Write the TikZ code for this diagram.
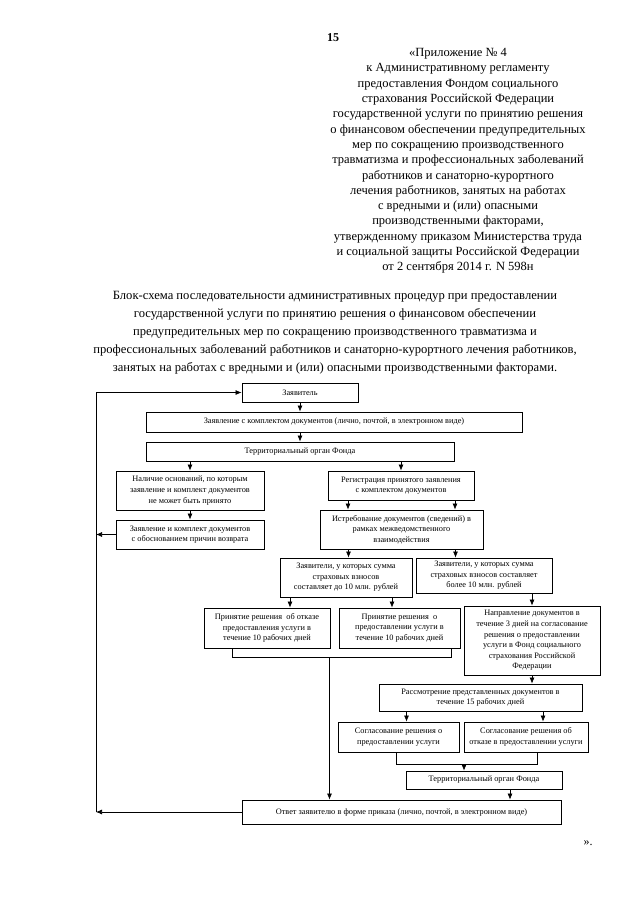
\documentclass[tikz,border=0pt]{standalone}
\usepackage{fontspec}
\setmainfont{Liberation Serif}
\usetikzlibrary{arrows.meta,calc}

\newcommand{\bxfont}{\fontsize{8.3}{10.6}\selectfont}

\begin{document}
\begin{tikzpicture}[x=1pt,y=-1pt,>={Latex[length=6pt,width=5pt]},
    box node/.style={rectangle,draw,line width=0.8pt,align=center,inner sep=1pt,font=\bxfont},
    every path/.style={line width=0.7pt}]
  \useasboundingbox (0,0) rectangle (640,905);

  % Page text
  \node (pnum) at (333,38) {\fontsize{12}{14}\selectfont\bfseries 15};
  \node[align=center,font=\fontsize{12.5}{15.3}\selectfont] (annex) at (458,161) {%
    «Приложение № 4\\
    к Административному регламенту\\
    предоставления Фондом социального\\
    страхования Российской Федерации\\
    государственной услуги по принятию решения\\
    о финансовом обеспечении предупредительных\\
    мер по сокращению производственного\\
    травматизма и профессиональных заболеваний\\
    работников и санаторно-курортного\\
    лечения работников, занятых на работах\\
    с вредными и (или) опасными\\
    производственными факторами,\\
    утвержденному приказом Министерства труда\\
    и социальной защиты Российской Федерации\\
    от 2 сентября 2014 г. N 598н};
  \node[align=center,font=\fontsize{12.6}{18}\selectfont] (title) at (335,333) {%
    Блок-схема последовательности административных процедур при предоставлении\\
    государственной услуги по принятию решения о финансовом обеспечении\\
    предупредительных мер по сокращению производственного травматизма и\\
    профессиональных заболеваний работников и санаторно-курортного лечения работников,\\
    занятых на работах с вредными и (или) опасными производственными факторами.};
  \node (close) at (588,843) {\fontsize{12}{14}\selectfont ».};

  % Nodes
  \node[box node,minimum width=116pt,minimum height=19pt] (zayav) at (300,392.5) {Заявитель};
  \node[box node,minimum width=376pt,minimum height=20pt] (zayavl) at (334,422)
    {Заявление с комплектом документов (лично, почтой, в электронном виде)};
  \node[box node,minimum width=308pt,minimum height=19pt] (terr) at (300,451.5) {Территориальный орган Фонда};
  \node[box node,minimum width=148pt,minimum height=39pt] (nalich) at (190,490.5)
    {Наличие оснований, по которым\\ заявление и комплект документов\\ не может быть принято};
  \node[box node,minimum width=148pt,minimum height=29pt] (vozvr) at (190,534.5)
    {Заявление и комплект документов\\ с обоснованием причин возврата};
  \node[box node,minimum width=146pt,minimum height=29pt] (reg) at (401,485.5)
    {Регистрация принятого заявления\\ с комплектом документов};
  \node[box node,minimum width=163pt,minimum height=39pt] (istreb) at (401.5,529.5)
    {Истребование документов (сведений) в\\ рамках межведомственного\\ взаимодействия};
  \node[box node,minimum width=132pt,minimum height=39pt] (do10) at (346,577.5)
    {Заявители, у которых сумма\\ страховых взносов\\ составляет до 10 млн. рублей};
  \node[box node,minimum width=136pt,minimum height=35pt] (bolee10) at (484,575.5)
    {Заявители, у которых сумма\\ страховых взносов составляет\\ более 10 млн. рублей};
  \node[box node,minimum width=126pt,minimum height=40pt] (otkaz) at (267,628)
    {Принятие решения \ об отказе\\ предоставления услуги в\\ течение 10 рабочих дней};
  \node[box node,minimum width=121pt,minimum height=40pt] (predost) at (399.5,628)
    {Принятие решения \ о\\ предоставлении услуги в\\ течение 10 рабочих дней};
  \node[box node,minimum width=136pt,minimum height=69pt] (napr) at (532,640.5)
    {Направление документов в\\ течение 3 дней на согласование\\ решения о предоставлении\\
     услуги в Фонд социального\\ страхования Российской\\ Федерации};
  \node[box node,minimum width=203pt,minimum height=27pt] (rassm) at (480.5,697.5)
    {Рассмотрение представленных документов в\\ течение 15 рабочих дней};
  \node[box node,minimum width=121pt,minimum height=30pt] (sogl1) at (398.5,737)
    {Согласование решения о\\ предоставлении услуги};
  \node[box node,minimum width=124pt,minimum height=30pt] (sogl2) at (526,737)
    {Согласование решения об\\ отказе в предоставлении услуги};
  \node[box node,minimum width=156pt,minimum height=18pt] (terr2) at (484,780) {Территориальный орган Фонда};
  \node[box node,minimum width=319pt,minimum height=24pt] (otvet) at (401.5,812)
    {Ответ заявителю в форме приказа (лично, почтой, в электронном виде)};
  \coordinate (lft) at (96,0);

  % Edges
  \draw[->] (zayav.south) -- (zayav.south |- zayavl.north);
  \draw[->] (terr.north |- zayavl.south) -- (terr.north);
  \draw[->] (terr.south -| nalich.north) -- (nalich.north);
  \draw[->] (terr.south -| reg.north) -- (reg.north);
  \draw[->] (nalich.south) -- (vozvr.north);
  \draw[->] ($(reg.south)+(-53,0)$) -- ($(reg.south |- istreb.north)+(-53,0)$);
  \draw[->] ($(reg.south)+(54,0)$) -- ($(reg.south |- istreb.north)+(54,0)$);
  \draw[->] ($(istreb.south)+(-53,0)$) -- ($(istreb.south |- do10.north)+(-53,0)$);
  \draw[->] ($(istreb.south)+(54,0)$) -- ($(istreb.south |- bolee10.north)+(54,0)$);
  \draw[->] ($(do10.south)+(-56,0)$) -- ($(do10.south |- otkaz.north)+(-56,0)$);
  \draw[->] ($(do10.south)+(46,0)$) -- ($(do10.south |- predost.north)+(46,0)$);
  \draw[->] (napr.north |- bolee10.south) -- (napr.north);
  \draw[->] (napr.south) -- (napr.south |- rassm.north);
  \draw[->] ($(sogl1.north |- rassm.south)+(8,0)$) -- ($(sogl1.north)+(8,0)$);
  \draw[->] ($(sogl2.north |- rassm.south)+(17,0)$) -- ($(sogl2.north)+(17,0)$);
  \draw ($(sogl1.south)+(-2,0)$) -- ++(0,12) coordinate (bl) -| ($(sogl2.south)+(11,0)$);
  \draw[->] ($(bl -| terr2.north)+(-20,0)$) -- ($(terr2.north)+(-20,0)$);
  \draw[->] ($(terr2.south)+(26,0)$) -- ($(terr2.south |- otvet.north)+(26,0)$);
  \draw ($(otkaz.south)+(-35,0)$) -- ++(0,9) coordinate (bt) -| ($(predost.south)+(52,0)$);
  \draw[->] ($(bt -| otvet.north)+(-72,0)$) -- ($(otvet.north)+(-72,0)$);
  \draw[->] (vozvr.west) -- (vozvr.west -| lft);
  \draw[->] (otvet.west) -- (otvet.west -| lft);
  \draw (otvet.west -| lft) -- (zayav.west -| lft);
  \draw[->] (zayav.west -| lft) -- (zayav.west);
\end{tikzpicture}
\end{document}
